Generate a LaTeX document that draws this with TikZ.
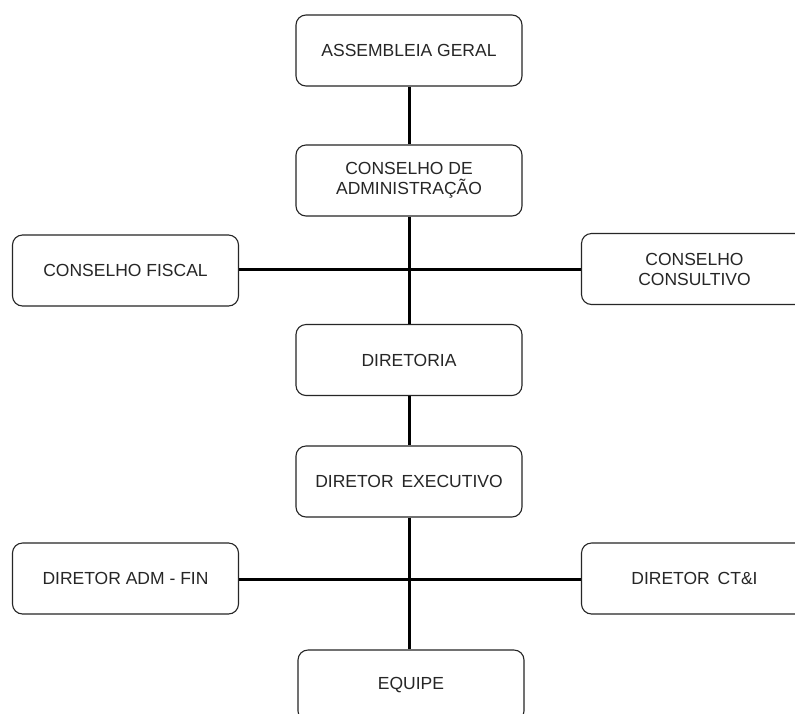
\documentclass[tikz,border=0pt]{standalone}
\usepackage{fontspec}
\setmainfont{Liberation Sans}
\begin{document}
\begin{tikzpicture}[x=1pt,y=-1pt,
  orgbox/.style={draw=black!85, line width=1.1pt, rounded corners=10pt, fill=white,
    minimum width=226pt, minimum height=71pt, inner sep=0pt, align=center,
    text=black!85, font=\fontsize{17.5}{20}\selectfont},
  link/.style={line width=3pt, black}]
\useasboundingbox (0,0) rectangle (795,713);
\clip (0,0) rectangle (795,713);
\fill[white] (0,0) rectangle (795,713);

% junction points on the central spine
\coordinate (j1) at (409,269);
\coordinate (j2) at (409,579);

% boxes
\node[orgbox] (ag)   at (409,50.5)  {ASSEMBLEIA GERAL};
\node[orgbox] (ca)   at (409,180.5) {CONSELHO DE\\ADMINISTRAÇÃO};
\node[orgbox] (cf)   at (125.5,270.5) {CONSELHO FISCAL};
\node[orgbox] (cc)   at (694.5,269) {CONSELHO\\CONSULTIVO};
\node[orgbox] (dir)  at (409,360)   {DIRETORIA};
\node[orgbox] (dex)  at (409,481.5) {DIRETOR\hspace{0.45em}EXECUTIVO};
\node[orgbox] (daf)  at (125.5,578.5) {DIRETOR ADM - FIN};
\node[orgbox] (dct)  at (694.5,578.5) {DIRETOR\hspace{0.45em}CT\&I};
\node[orgbox] (eq)   at (411,685.5) {EQUIPE};

% vertical spine
\draw[link] (ag.south) -- (ca.north);
\draw[link] (ca.south) -- (dir.north);
\draw[link] (dir.south) -- (dex.north);
\draw[link] (dex.south) -- (dex.south |- eq.north);
% horizontal branches
\draw[link] (cf.east |- j1) -- (cc.west |- j1);
\draw[link] (daf.east |- j2) -- (dct.west |- j2);
\end{tikzpicture}
\end{document}
